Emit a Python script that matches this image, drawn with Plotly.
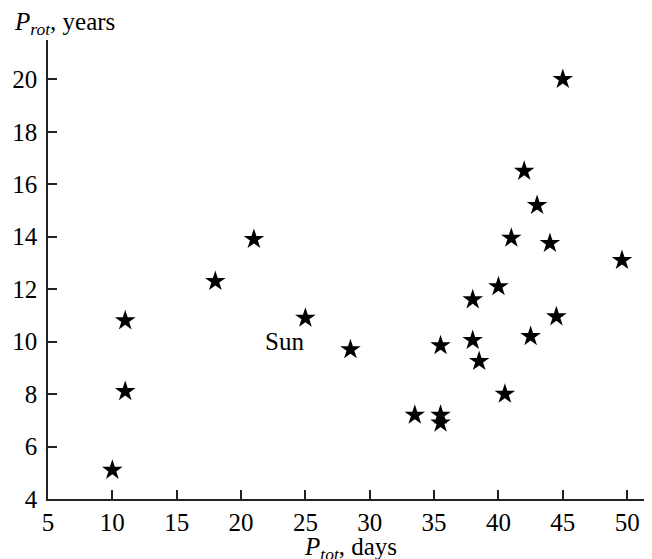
import plotly.graph_objects as go

p_tot = [10, 11, 11, 18, 21, 25, 28.5, 33.5, 35.5, 35.5, 35.5, 38, 38, 38.5,
         40, 40.5, 41, 42, 42.5, 43, 44, 44.5, 45, 49.6]
p_rot = [5.1, 8.1, 10.8, 12.3, 13.9, 10.9, 9.7, 7.2, 7.2, 6.9, 9.85, 11.6, 10.05, 9.25,
         12.1, 8.0, 13.95, 16.5, 10.2, 15.2, 13.75, 10.95, 20.0, 13.1]
x_ticks = [5, 10, 15, 20, 25, 30, 35, 40, 45, 50]
y_ticks = [4, 6, 8, 10, 12, 14, 16, 18, 20]
sun_label = {"x": 25.05, "y": 10.0, "text": "Sun"}

FONT = "Liberation Serif, Times New Roman, serif"
FS = 25

fig = go.Figure()
fig.add_trace(go.Scatter(
    x=p_tot, y=p_rot, mode="markers",
    marker=dict(symbol="star", size=15.5, color="black", line=dict(width=0)),
    showlegend=False, hoverinfo="skip"))

axis_common = dict(
    showgrid=False, zeroline=False, showline=True, linecolor="#222", linewidth=1.5,
    ticks="inside", tickcolor="#222", tickwidth=1.5, ticklen=9,
    tickfont=dict(family=FONT, size=FS, color="black"),
)
fig.update_xaxes(range=[5, 51.93], tickvals=x_ticks, **axis_common)
fig.update_yaxes(range=[4, 21.5], tickvals=y_ticks, ticklabelstandoff=4, **axis_common)

fig.add_annotation(x=sun_label["x"], y=sun_label["y"], xref="x", yref="y",
                   text=sun_label["text"], showarrow=False, xanchor="right", yanchor="middle",
                   font=dict(family=FONT, size=FS, color="black"))
fig.add_annotation(x=-0.0596, y=1.036, xref="paper", yref="paper",
                   text="<i>P</i><sub><i>rot</i></sub>, years", showarrow=False,
                   xanchor="left", yanchor="middle",
                   font=dict(family=FONT, size=FS, color="black"))
fig.add_annotation(x=0.5, y=-0.07, xref="paper", yref="paper",
                   text="<i>P</i><sub><i>tot</i></sub>, days", showarrow=False,
                   xanchor="center", yanchor="top",
                   font=dict(family=FONT, size=FS, color="black"))

fig.update_layout(
    width=644, height=551,
    margin=dict(l=40, r=0, t=32, b=60, autoexpand=False),
    plot_bgcolor="white", paper_bgcolor="white",
    font=dict(family=FONT, size=FS, color="black"),
)
fig.write_html("out.html")
